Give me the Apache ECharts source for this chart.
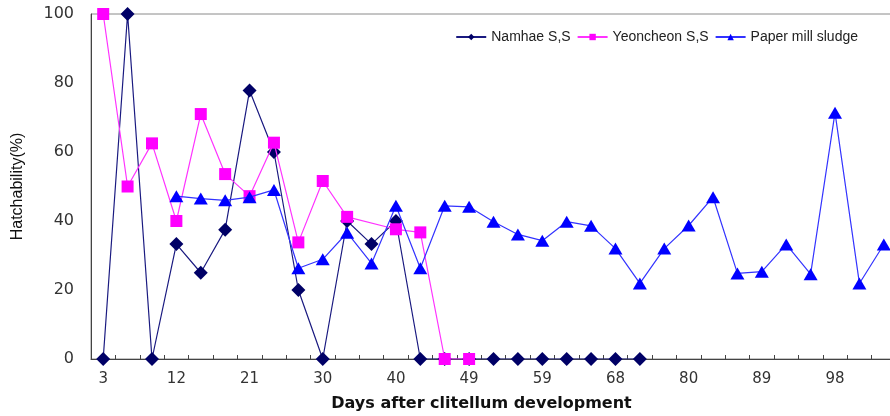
<!DOCTYPE html>
<html>
<head>
<meta charset="utf-8">
<script src="https://cdn.jsdelivr.net/npm/echarts@6/dist/echarts.min.js"></script>
<style>html,body{margin:0;padding:0;background:#fff;}#c{width:890px;height:416px;}</style>
</head>
<body>
<div id="c"></div>
<script>
const days = ['3','6','9','12','15','18','21','24','27','30','33','37','40','43','46','49','52','56','59','62','65','68','72','76','80','83','86','89','92','95','98','101','104'];
const namhae = [0,100,0,33.3,25,37.5,77.8,60,20,0,40,33.3,40,0,0,0,0,0,0,0,0,0,0,null,null,null,null,null,null,null,null,null,null];
const yeoncheon = [100,50,62.5,40,71,53.6,47.2,62.7,33.8,51.6,41.2,null,37.6,36.7,0,0,null,null,null,null,null,null,null,null,null,null,null,null,null,null,null,null,null];
const paperMill = [null,null,null,47.2,46.5,46,46.9,49,26.3,28.9,36.6,27.7,44.4,26.3,44.4,44.1,39.8,36.1,34.3,39.8,38.6,32,21.9,32,38.7,46.9,24.8,25.3,33.2,24.6,71.4,21.9,33.2];
const yTicks = [0,20,40,60,80,100];

const chart = echarts.init(document.getElementById('c'), null, {renderer:'canvas'});
chart.setOption({
  animation:false,
  backgroundColor:'#fff',
  grid:{left:91, top:14, width:805, height:345, show:true, borderColor:'#8a8a8a', borderWidth:1, containLabel:false, outerBoundsMode:'none'},
  legend:{
    right:27, top:25, itemGap:6, itemWidth:30, itemHeight:8,
    textStyle:{fontFamily:'Liberation Sans', fontSize:14, color:'#222'},
    data:['Namhae S,S','Yeoncheon S,S','Paper mill sludge']
  },
  xAxis:{
    type:'category', data:days, boundaryGap:true,
    name:'Days after clitellum development', nameLocation:'middle', nameGap:37,
    nameTextStyle:{fontFamily:'DejaVu Sans', fontWeight:'bold', fontSize:16, color:'#111', padding:[0,24,0,0]},
    axisLine:{lineStyle:{color:'#444', width:1}},
    axisTick:{show:true, inside:true, length:4, interval:0, lineStyle:{color:'#444'}},
    axisLabel:{interval:2, margin:13, fontFamily:'DejaVu Sans', fontSize:15, color:'#333'},
    splitLine:{show:false}
  },
  yAxis:{
    type:'value', min:0, max:100, interval:20,
    name:'Hatchability(%)', nameLocation:'middle', nameGap:65, nameRotate:90,
    nameTextStyle:{fontFamily:'Liberation Sans', fontSize:16, color:'#111'},
    axisLine:{show:true, lineStyle:{color:'#444', width:1}},
    axisTick:{show:false},
    axisLabel:{margin:17, fontFamily:'DejaVu Sans', fontSize:16, color:'#333',
      formatter:function(v){return yTicks.indexOf(v)>=0 ? String(v) : '';}},
    splitLine:{show:false}
  },
  series:[
    {name:'Yeoncheon S,S', type:'line', data:yeoncheon, connectNulls:true, z:3,
     symbol:'rect', symbolSize:12, itemStyle:{color:'#FF00FF'}, lineStyle:{color:'#FF33FF', width:1.2}},
    {name:'Namhae S,S', type:'line', data:namhae, z:2,
     symbol:'diamond', symbolSize:[14,14], itemStyle:{color:'#000066'}, lineStyle:{color:'#1a1a80', width:1.2}},
    {name:'Paper mill sludge', type:'line', data:paperMill, z:4,
     symbol:'triangle', symbolSize:[14,12], itemStyle:{color:'#0000FF'}, lineStyle:{color:'#3333FF', width:1.2}}
  ]
});
</script>
</body>
</html>
